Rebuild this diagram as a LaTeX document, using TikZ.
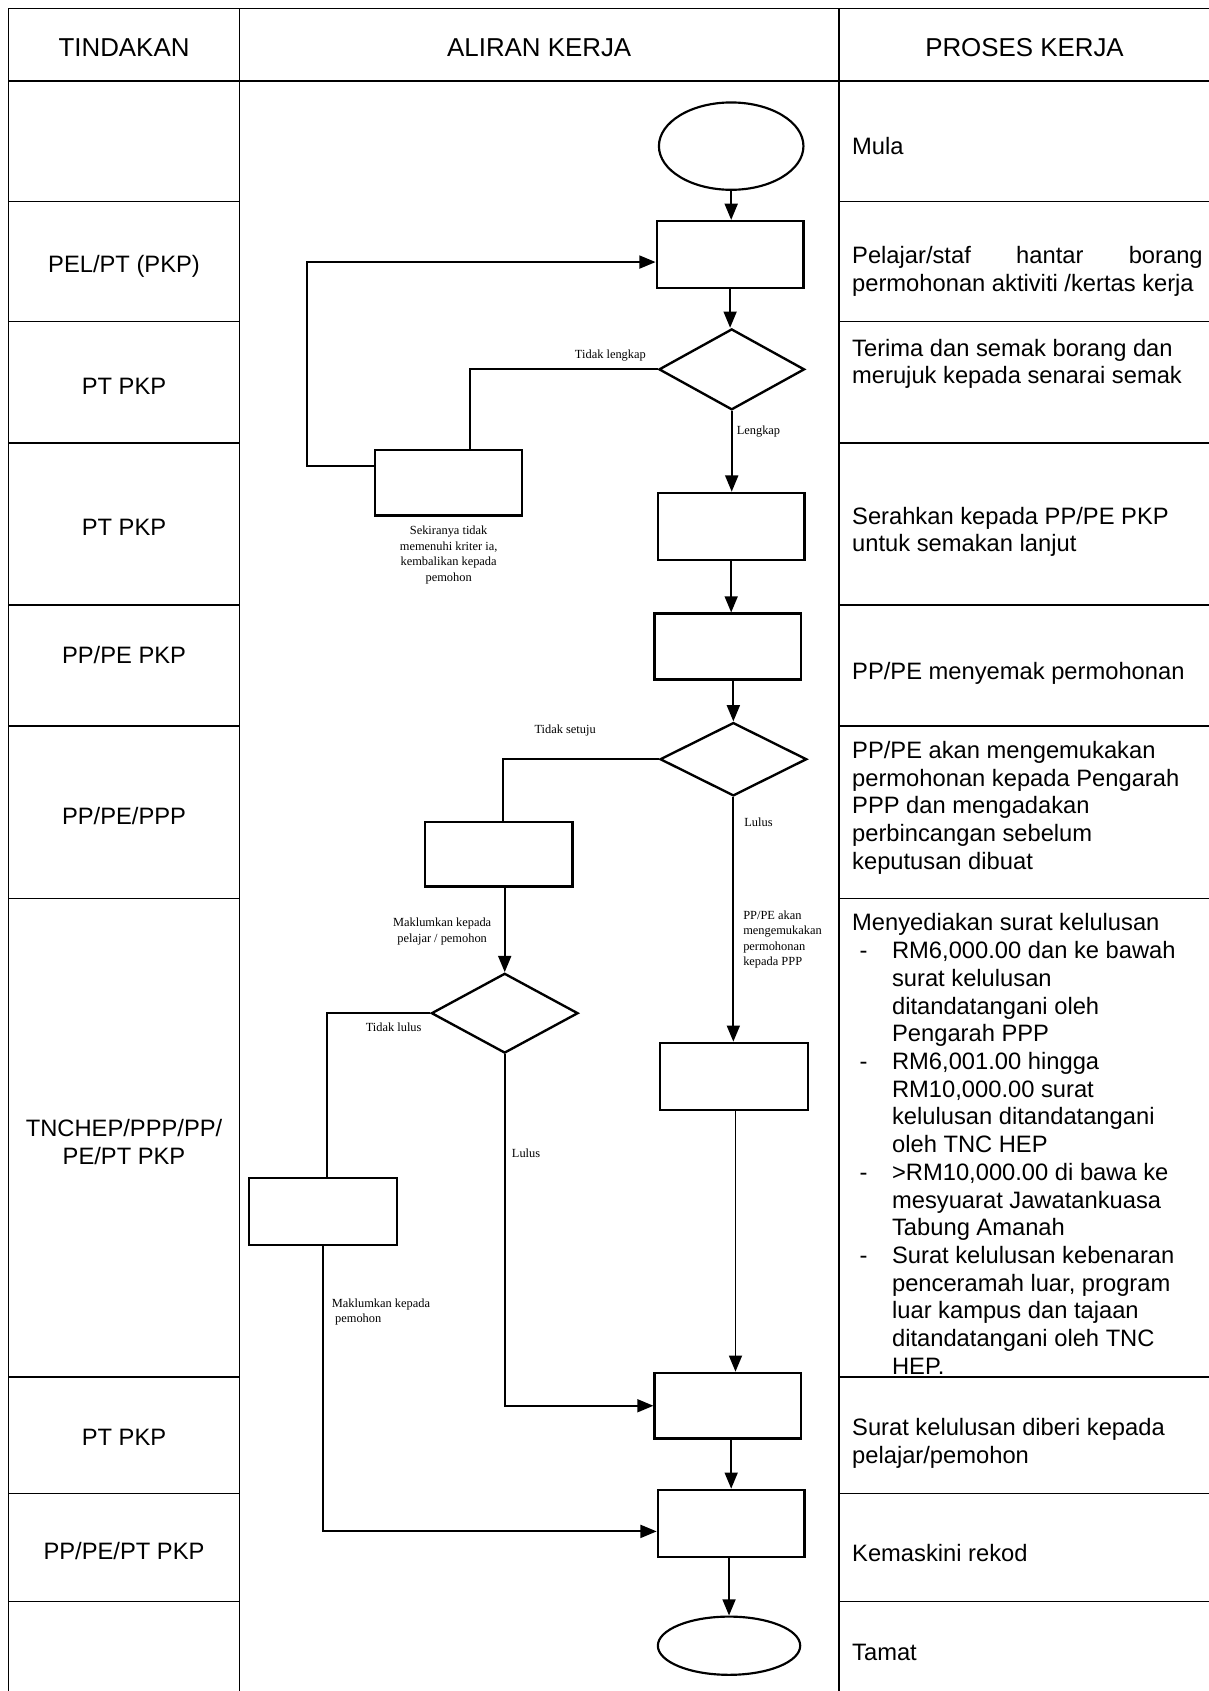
\documentclass[tikz,border=0pt]{standalone}
\usepackage{fontspec}
\setmainfont{Liberation Sans}
\newfontfamily\kecil{Liberation Serif}
\usetikzlibrary{shapes.geometric,arrows.meta}
\tikzset{
  flowbox/.style={draw,line width=2.2pt,rectangle,inner sep=0pt},
  flowdiamond/.style={draw,line width=2.2pt,diamond,inner sep=0pt},
  flowend/.style={draw,line width=2pt,ellipse,inner sep=0pt},
  flowline/.style={line width=1.8pt},
  flowarrow/.style={flowline,-{Triangle[length=15pt,width=12pt]}},
  smalllabel/.style={font=\kecil\fontsize{11.5}{14.5}\selectfont,inner sep=0pt},
  actor/.style={font=\fontsize{22}{25.7}\selectfont,align=center,inner sep=0pt},
  proses/.style={font=\fontsize{22}{25.7}\selectfont,align=left,anchor=north west,inner sep=0pt},
  heading/.style={font=\fontsize{24}{28}\selectfont,inner sep=0pt},
  tableline/.style={line width=1.5pt}
}

\begin{document}
\begin{tikzpicture}[x=1pt,y=-1pt]
\useasboundingbox (0,0) rectangle (1121,1568);
\draw[tableline] (8,1568) -- (8,8) -- (1121,8);
\draw[tableline] (8,75) -- (1121,75);
\draw[tableline] (222,8) -- (222,1568);
\draw[tableline] (778,8) -- (778,1568);
\foreach \y in {187,298,411,561,673,833,1277,1385,1485}
  \draw[tableline] (8,\y) -- (222,\y) (778,\y) -- (1121,\y);

\node[heading] (h1) at (115,44) {TINDAKAN};
\node[heading] (h2) at (500,44) {ALIRAN KERJA};
\node[heading] (h3) at (950,44) {PROSES KERJA};

\node[actor] (a1) at (115,247) {PEL/PT (PKP)};
\node[actor] (a2) at (115,358) {PT PKP};
\node[actor] (a3) at (115,489) {PT PKP};
\node[actor] (a4) at (115,607) {PP/PE PKP};
\node[actor] (a5) at (115,757) {PP/PE/PPP};
\node[actor] (a6) at (115,1059) {TNCHEP/PPP/PP/\\PE/PT PKP};
\node[actor] (a7) at (115,1333) {PT PKP};
\node[actor] (a8) at (115,1438) {PP/PE/PT PKP};

\node[proses] (p1) at (790,127) {Mula};
\node[proses] (p2) at (790,228) {\makebox[325pt][s]{Pelajar/staf hantar borang}\\permohonan aktiviti /kertas kerja};
\node[proses] (p3) at (790,314) {Terima dan semak borang dan\\merujuk kepada senarai semak};
\node[proses] (p4) at (790,470) {Serahkan kepada PP/PE PKP\\untuk semakan lanjut};
\node[proses] (p5) at (790,614) {PP/PE menyemak permohonan};
\node[proses] (p6) at (790,687) {PP/PE akan mengemukakan\\permohonan kepada Pengarah\\PPP dan mengadakan\\perbincangan sebelum\\keputusan dibuat};
\node[proses] (p7) at (790,847) {Menyediakan surat kelulusan\\
\hspace*{7pt}\makebox[30pt][l]{-}RM6,000.00 dan ke bawah\\
\hspace*{37pt}surat kelulusan\\
\hspace*{37pt}ditandatangani oleh\\
\hspace*{37pt}Pengarah PPP\\
\hspace*{7pt}\makebox[30pt][l]{-}RM6,001.00 hingga\\
\hspace*{37pt}RM10,000.00 surat\\
\hspace*{37pt}kelulusan ditandatangani\\
\hspace*{37pt}oleh TNC HEP\\
\hspace*{7pt}\makebox[30pt][l]{-}>RM10,000.00 di bawa ke\\
\hspace*{37pt}mesyuarat Jawatankuasa\\
\hspace*{37pt}Tabung Amanah\\
\hspace*{7pt}\makebox[30pt][l]{-}Surat kelulusan kebenaran\\
\hspace*{37pt}penceramah luar, program\\
\hspace*{37pt}luar kampus  dan  tajaan\\
\hspace*{37pt}ditandatangani oleh TNC\\
\hspace*{37pt}HEP.};
\node[proses] (p8) at (790,1315) {Surat kelulusan diberi kepada\\pelajar/pemohon};
\node[proses] (p9) at (790,1432) {Kemaskini rekod};
\node[proses] (p10) at (790,1524) {Tamat};

\node[flowend,minimum width=134pt,minimum height=81pt] (mula) at (678,135.5) {};
\node[flowbox,minimum width=136pt,minimum height=62pt] (hantar) at (677,236) {};
\node[flowdiamond,minimum width=135pt,minimum height=75pt] (semak) at (678.5,342.5) {};
\node[flowbox,minimum width=136pt,minimum height=61pt] (pulang) at (416,447.5) {};
\node[flowbox,minimum width=136pt,minimum height=62pt] (serah) at (678,488) {};
\node[flowbox,minimum width=136pt,minimum height=61pt] (nilai) at (675,599.5) {};
\node[flowdiamond,minimum width=136pt,minimum height=68pt] (putus) at (680,704) {};
\node[flowbox,minimum width=137pt,minimum height=60pt] (maklum) at (462.5,792) {};
\node[flowdiamond,minimum width=136pt,minimum height=74pt] (lulus) at (468,939.5) {};
\node[flowbox,minimum width=137pt,minimum height=62pt] (sedia) at (680.5,998) {};
\node[flowbox,minimum width=137pt,minimum height=62pt] (tolak) at (299.5,1123.5) {};
\node[flowbox,minimum width=136pt,minimum height=61pt] (beri) at (675,1303.5) {};
\node[flowbox,minimum width=136pt,minimum height=62pt] (rekod) at (678,1412.5) {};
\node[flowend,minimum width=132pt,minimum height=54pt] (tamat) at (676,1526) {};

\coordinate (balik) at (285,432);
\draw[flowarrow] (mula.south) -- (mula.south |- hantar.north);
\draw[flowarrow] (hantar.south) -- (hantar.south |- semak.north);
\draw[flowline] (semak.west) -| ([xshift=20pt]pulang.north);
\draw[flowarrow] (pulang.west |- balik) -- (balik) |- ([yshift=-7pt]hantar.west);
\draw[flowarrow] (semak.south) -- (semak.south |- serah.north);
\draw[flowarrow] (serah.south) -- (serah.south |- nilai.north);
\draw[flowarrow] (putus.north |- nilai.south) -- (putus.north);
\draw[flowline] (putus.west) -| ([xshift=4pt]maklum.north);
\draw[flowarrow] (putus.south) -- (putus.south |- sedia.north);
\draw[flowarrow] (lulus.north |- maklum.south) -- (lulus.north);
\draw[flowline] (lulus.west) -| ([xshift=4pt]tolak.north);
\draw[flowarrow] (lulus.south) |- (beri.west);
\draw[flowarrow] ([xshift=1.5pt]sedia.south) -- ([xshift=1.5pt]sedia.south |- beri.north);
\draw[flowarrow] (rekod.north |- beri.south) -- (rekod.north);
\draw[flowarrow] (tolak.south) |- ([yshift=-7.5pt]rekod.west);
\draw[flowarrow] (tamat.north |- rekod.south) -- (tamat.north);

\node[smalllabel] (l1) at (566,330) {Tidak lengkap};
\node[smalllabel,anchor=west] (l2) at (683,400) {Lengkap};
\node[smalllabel,anchor=north,align=center] (l3) at (416,487.5) {Sekiranya tidak\\memenuhi kriter ia,\\kembalikan kepada\\pemohon};
\node[smalllabel] (l4) at (524,677) {Tidak setuju};
\node[smalllabel,anchor=west] (l5) at (690,762) {Lulus};
\node[smalllabel,anchor=north west,align=left] (l6) at (689,844) {PP/PE akan\\mengemukakan\\permohonan\\kepada PPP};
\node[smalllabel,anchor=north,align=center] (l7) at (410,851) {Maklumkan kepada\\pelajar / pemohon};
\node[smalllabel] (l8) at (365,952.5) {Tidak lulus};
\node[smalllabel,anchor=west] (l9) at (474.5,1069) {Lulus};
\node[smalllabel,anchor=north west,align=left] (l10) at (307.6,1204) {Maklumkan kepada\\\hspace*{3pt}pemohon};
\end{tikzpicture}
\end{document}
